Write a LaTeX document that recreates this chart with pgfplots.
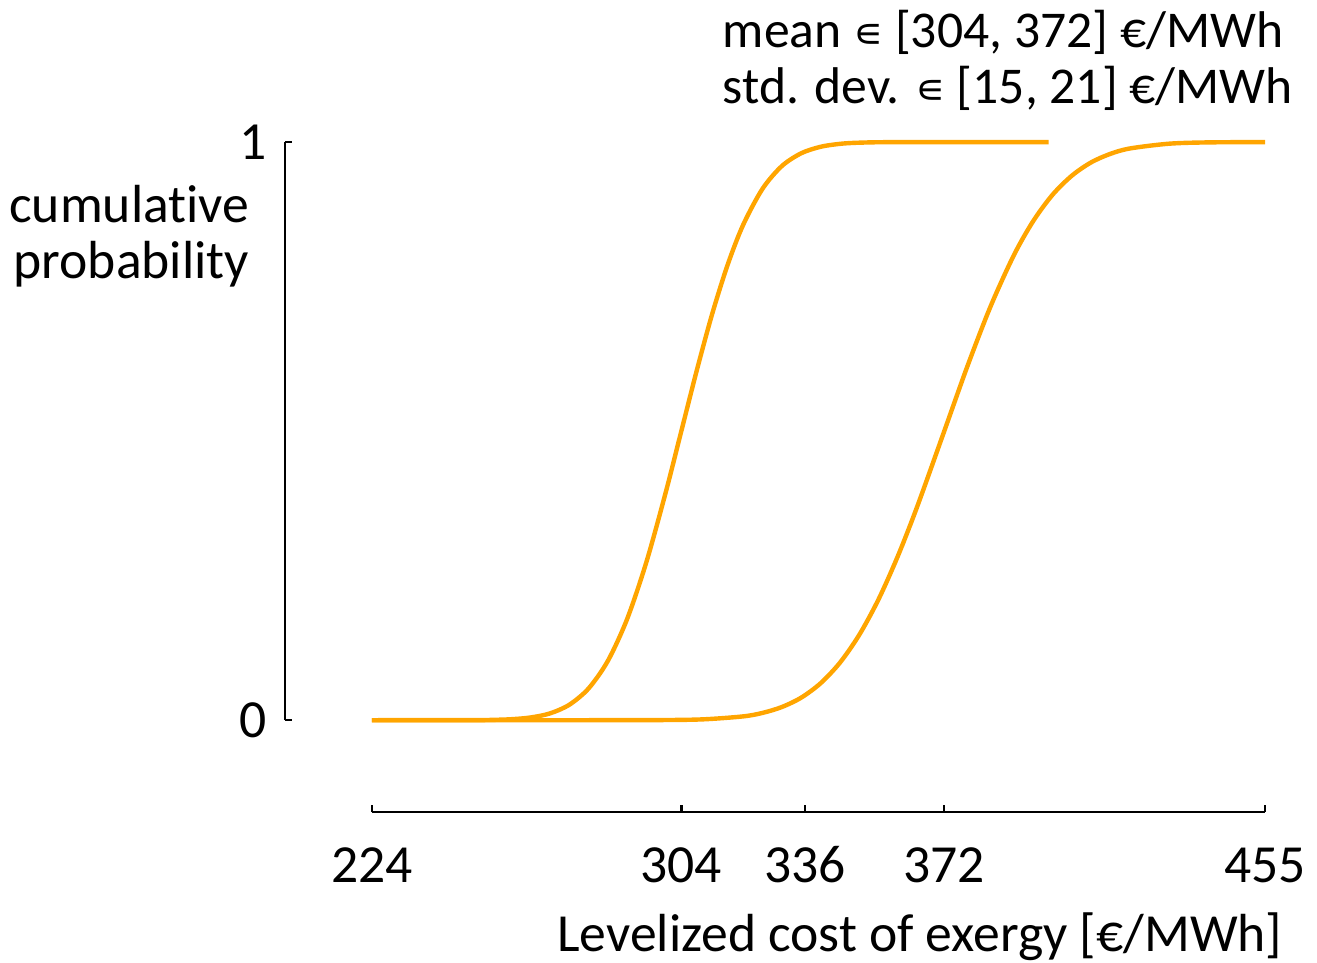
\documentclass[border=0pt]{standalone}
\usepackage{pgfplots}
\pgfplotsset{compat=1.18}
\usepackage{fontspec}
\setmainfont{Carlito}[Ligatures={NoCommon}]
\newfontfamily\dejavu{DejaVu Sans}
\definecolor{lineorange}{HTML}{FFA500}
\begin{document}
\fontsize{13.4}{16}\selectfont
\begin{tikzpicture}
\begin{axis}[
  scale only axis,
  width=245pt, height=167.5pt,
  xmin=201.495, xmax=455,
  ymin=-0.15917, ymax=1,
  clip=false,
  axis x line*=bottom, axis y line*=left,
  x axis line style={draw=none}, y axis line style={draw=none},
  xtick={224,304,336,372,455},
  ytick={0,1},
  tick align=inside,
  major tick length=1.8pt,
  tick style={black, line width=0.6pt},
  /pgf/number format/assume math mode=true,
  ticklabel style={font=\fontsize{13.4}{16}\selectfont},
  xticklabel style={anchor=north, text height=9pt, text depth=0pt, yshift=-4pt},
  yticklabel style={xshift=0pt},
]
\coordinate (bbll) at (axis cs:127.8,-0.4187);
\coordinate (bbur) at (axis cs:468.4,1.2457);
\draw[line width=0.6pt] (axis cs:224,-0.15917) -- (axis cs:455,-0.15917);
\draw[line width=0.6pt] (axis cs:201.495,0) -- (axis cs:201.495,1);
\addplot[lineorange, line width=1.1pt, smooth, tension=0.5] coordinates {
(224,0) (250,0.00016) (255,0.00054) (260,0.0017) (265,0.0047) (270,0.0117) (275,0.0266)
(280,0.0548) (285,0.1026) (290,0.1753) (295,0.2743) (300,0.3949) (304,0.5)
(308,0.6051) (312,0.7031) (316,0.7881) (320,0.8569) (325,0.9192) (330,0.9585)
(335,0.9806) (340,0.9918) (345,0.9969) (350,0.9989) (360,0.9999) (399,1)
};
\addplot[lineorange, line width=1.1pt, smooth, tension=0.5] coordinates {
(224,0) (280,0.000006) (300,0.0003) (310,0.0016) (320,0.0066) (325,0.0126) (330,0.0228)
(335,0.0390) (340,0.0638) (345,0.0993) (350,0.1474) (355,0.2090) (360,0.2839) (365,0.3694)
(372,0.5) (378,0.6125) (384,0.7161) (390,0.8043) (395,0.8633) (400,0.9088)
(405,0.9419) (410,0.9649) (415,0.9797) (420,0.9889) (430,0.9971) (440,0.9994) (455,1)
};
\node[anchor=base west, inner sep=0, font=\fontsize{12.9}{15}\selectfont] at (axis cs:314.54,1.1644) {mean {\dejavu\fontsize{10.5}{12}\selectfont ∊} [304, 372] €/MWh};
\node[anchor=base west, inner sep=0, font=\fontsize{12.9}{15}\selectfont] at (axis cs:314.54,1.0675) {std. dev. {\dejavu\fontsize{10.5}{12}\selectfont ∊} [15, 21] €/MWh};
\node[anchor=base east, inner sep=0] at (axis cs:192.44,0.8616) {cumulative};
\node[anchor=base east, inner sep=0] at (axis cs:192.44,0.7647) {probability};
\node[anchor=base east, inner sep=0] at (axis cs:459.65,-0.4000) {Levelized cost of exergy [€/MWh]};
\end{axis}
\pgfresetboundingbox
\path (bbll) rectangle (bbur);
\end{tikzpicture}
\end{document}
